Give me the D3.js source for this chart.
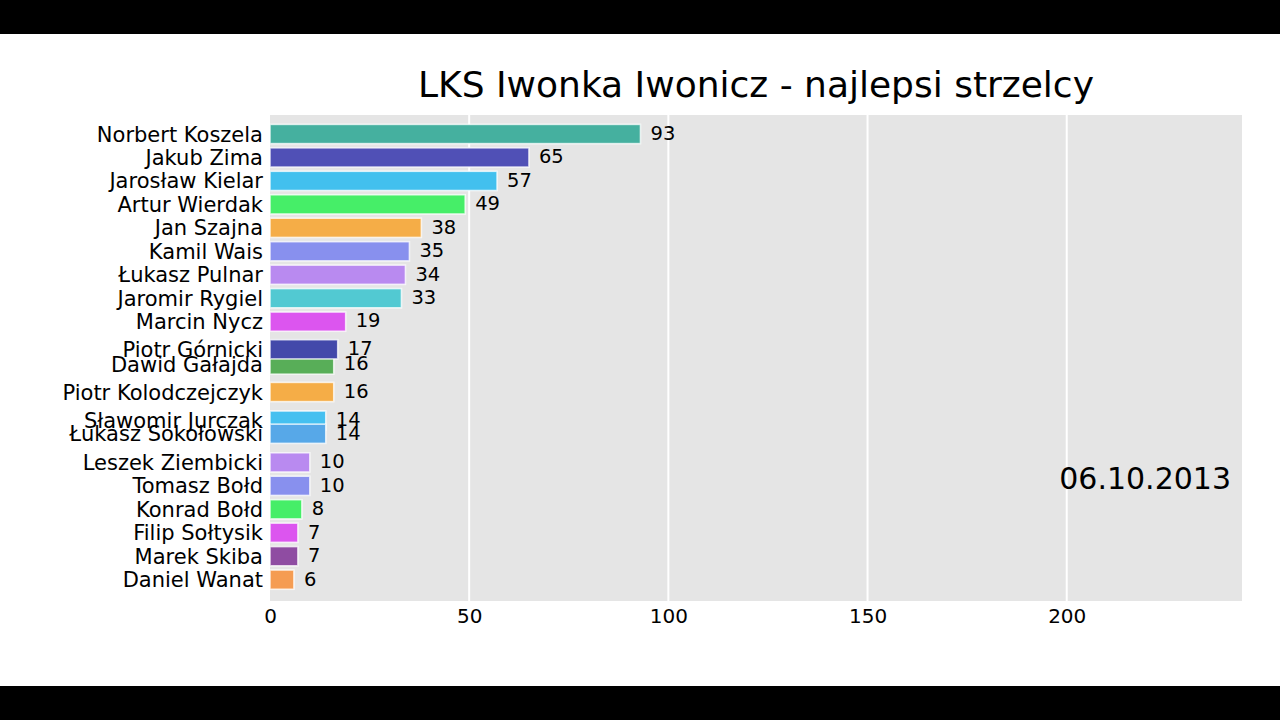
<!DOCTYPE html>
<html>
<head>
<meta charset="utf-8">
<script src="https://cdn.jsdelivr.net/npm/d3@7"></script>
<style>
  html, body { margin: 0; padding: 0; background: #fff; }
  svg { display: block; font-family: "DejaVu Sans", sans-serif; }
</style>
</head>
<body>
<svg id="chart" width="1280" height="720"></svg>
<script>
// ---- data (drawing order: later items are painted on top) ----
const names = [
  "Norbert Koszela", "Jakub Zima", "Jarosław Kielar", "Artur Wierdak", "Jan Szajna",
  "Kamil Wais", "Łukasz Pulnar", "Jaromir Rygiel", "Marcin Nycz", "Dawid Gałajda",
  "Piotr Górnicki", "Piotr Kolodczejczyk", "Sławomir Jurczak", "Łukasz Sokołowski",
  "Leszek Ziembicki", "Tomasz Bołd", "Konrad Bołd", "Filip Sołtysik", "Marek Skiba", "Daniel Wanat"
];
const goals = [93, 65, 57, 49, 38, 35, 34, 33, 19, 16, 17, 16, 14, 14, 10, 10, 8, 7, 7, 6];
// animated (in-transition) rank positions of each bar in this frame
const ranks = [0, 1, 2, 3, 4, 5, 6, 7, 8, 9.83, 9.18, 11, 12.22, 12.78, 14, 15, 16, 17, 18, 19];
const colors = [
  "#45b09f", "#5050b6", "#42c0ee", "#46ee68", "#f5ad47",
  "#8890ee", "#b98af0", "#52c9d2", "#dc55ef", "#58ae58",
  "#4349aa", "#f5ad47", "#45c0f0", "#57a8e8",
  "#b98af0", "#8890ee", "#46ee68", "#dc55ef", "#8f4ca2", "#f59c52"
];
const tickValues = [0, 50, 100, 150, 200];
const title = "LKS Iwonka Iwonicz - najlepsi strzelcy";
const dateLabel = "06.10.2013";

const rows = names.map((n, i) => ({ name: n, value: goals[i], rank: ranks[i], color: colors[i] }));

// ---- layout ----
const W = 1280, H = 720;
const plot = { left: 270, right: 1242, top: 115, bottom: 601 };
const svg = d3.select("#chart");

// letterbox bands
svg.append("rect").attr("x", 0).attr("y", 0).attr("width", W).attr("height", 34).attr("fill", "#000");
svg.append("rect").attr("x", 0).attr("y", 686).attr("width", W).attr("height", 34).attr("fill", "#000");

const x = d3.scaleLinear().domain([0, 244]).range([plot.left, plot.right]);
const y = d3.scaleLinear().domain([-0.81, 19.91]).range([plot.top, plot.bottom]);
const step = y(1) - y(0);
const barH = step * 0.82;

// plot background
svg.append("rect")
  .attr("x", plot.left).attr("y", plot.top)
  .attr("width", plot.right - plot.left).attr("height", plot.bottom - plot.top)
  .attr("fill", "#e5e5e5");

// vertical grid
svg.append("g").selectAll("line").data(tickValues.filter(v => v > 0)).join("line")
  .attr("x1", d => x(d)).attr("x2", d => x(d))
  .attr("y1", plot.top).attr("y2", plot.bottom)
  .attr("stroke", "#fff").attr("stroke-width", 2);

// x axis
const xAxis = d3.axisBottom(x).tickValues(tickValues).tickSize(0).tickPadding(8).tickFormat(d3.format("d"));
const gx = svg.append("g").attr("transform", `translate(0,${plot.bottom})`).call(xAxis);
gx.select(".domain").remove();
gx.selectAll("text").attr("font-size", 20).attr("font-family", "DejaVu Sans").attr("fill", "#000");

// bars
const gBars = svg.append("g");
gBars.selectAll("rect").data(rows).join("rect")
  .attr("x", x(0))
  .attr("y", d => y(d.rank) - barH / 2)
  .attr("width", d => x(d.value) - x(0))
  .attr("height", barH)
  .attr("fill", d => d.color)
  .attr("stroke", "rgba(255,255,255,0.75)")
  .attr("stroke-width", 1.6);

// name labels
svg.append("g").selectAll("text").data(rows).join("text")
  .attr("x", plot.left - 7)
  .attr("y", d => y(d.rank))
  .attr("dy", "0.36em")
  .attr("text-anchor", "end")
  .attr("font-size", 21)
  .attr("fill", "#000")
  .text(d => d.name);

// value labels
svg.append("g").selectAll("text").data(rows).join("text")
  .attr("x", d => x(d.value) + 10)
  .attr("y", d => y(d.rank))
  .attr("dy", "0.3em")
  .attr("font-size", 19.5)
  .attr("fill", "#000")
  .text(d => d.value);

// title
svg.append("text")
  .attr("x", (plot.left + plot.right) / 2)
  .attr("y", 97)
  .attr("text-anchor", "middle")
  .attr("font-size", 36)
  .attr("fill", "#000")
  .text(title);

// date
svg.append("text")
  .attr("x", 1231)
  .attr("y", 489)
  .attr("text-anchor", "end")
  .attr("font-size", 30)
  .attr("fill", "#000")
  .text(dateLabel);
</script>
</body>
</html>
